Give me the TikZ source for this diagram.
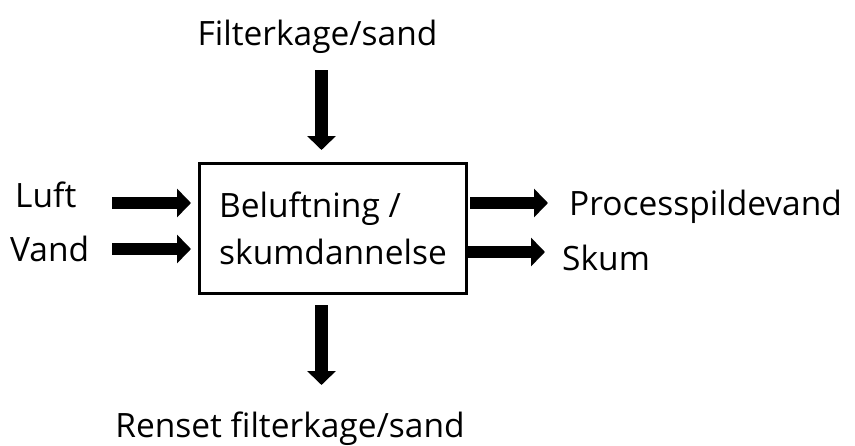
\documentclass[tikz,border=0pt]{standalone}
\usepackage{fontspec}
\setmainfont{Open Sans}
\usetikzlibrary{arrows.meta}

\begin{document}
\begin{tikzpicture}[x=1pt,y=-1pt]
      \tikzstyle{every node}+=[inner sep=0pt, font=\fontsize{33.5}{47}\selectfont]
      \tikzstyle{flow}=[line width=12.5pt, -{Triangle[length=14pt,width=28pt]}]
      \useasboundingbox (0,0) rectangle (855,445);
      \node [draw, line width=3pt, minimum width=267pt, minimum height=130pt, align=left] (box) at (333,228.5) {Beluftning /\\skumdannelse};
      \node [anchor=base] (filter) at (317.5,45) {Filterkage/sand};
      \node [anchor=base] (renset) at (290,437) {Renset filterkage/sand};
      \node [anchor=base west] (luft) at (15,207) {Luft};
      \node [anchor=base west] (vand) at (10,261) {Vand};
      \node [anchor=base west] (proces) at (569,215) {Processpildevand};
      \node [anchor=base west] (skum) at (562,270) {Skum};
      \coordinate (luftA) at (112,203);
      \coordinate (vandA) at (112,249);
      \coordinate (filterA) at (321.5,70);
      \coordinate (rensetB) at (321.5,385);
      \coordinate (procesB) at (548,203);
      \coordinate (skumB) at (545,252);
      \draw [flow] (luftA) -- (luftA -| box.west) [shorten >=7pt];
      \draw [flow] (vandA) -- (vandA -| box.west) [shorten >=7pt];
      \draw [flow] (filterA) -- (filterA |- box.north) [shorten >=12pt];
      \draw [flow] (filterA |- box.south) -- (rensetB) [shorten <=10pt];
      \draw [flow] (procesB -| box.east) -- (procesB) [shorten <=2pt];
      \draw [flow] (skumB -| box.east) -- (skumB) [shorten <=0pt];
\end{tikzpicture}
\end{document}
